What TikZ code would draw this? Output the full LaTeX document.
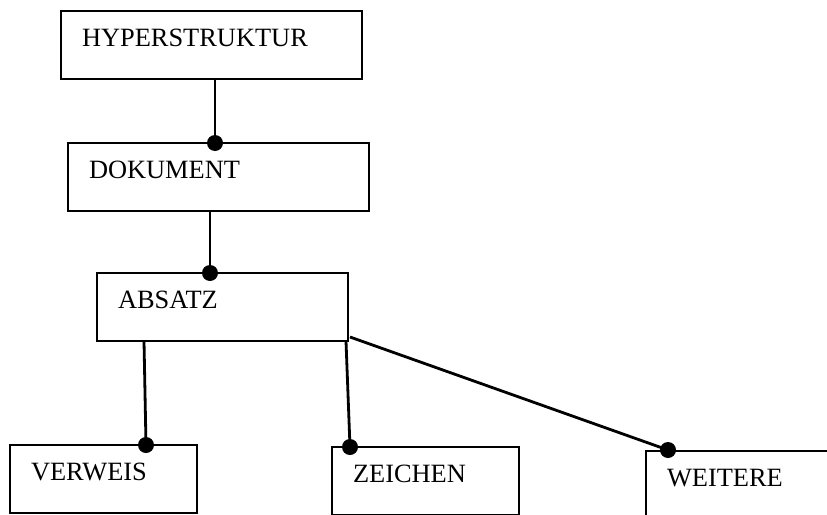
\documentclass[tikz,border=0pt]{standalone}
\usepackage{fontspec}
\setmainfont{Liberation Serif}
\usetikzlibrary{positioning, calc}

\tikzset{
  entity/.style={draw, line width=2pt, outer sep=0pt, anchor=north west, align=left,
    inner xsep=21pt, inner ysep=0pt, text height=35.7pt, text depth=32.3pt,
    font=\fontsize{26.4}{30}\selectfont},
  link/.style={line width=2.8pt},
  dot/.style={circle, fill=black, inner sep=0pt, minimum size=16pt}
}

\begin{document}
\begin{tikzpicture}[x=1pt, y=-1pt]
      \useasboundingbox (0,0) rectangle (827,514);
      \clip (0,0) rectangle (827,514);

      \node[entity, text width=259pt] (hyper) at (61,11) {HYPERSTRUKTUR};
      \node[entity, text width=259pt] (dok) at (68,143) {DOKUMENT};
      \node[entity, text width=209pt] (absatz) at (97,273) {ABSATZ};
      \node[entity, text width=145pt] (verweis) at (10,445) {VERWEIS};
      \node[entity, text width=145pt] (zeichen) at (332,447) {ZEICHEN};
      \node[entity, text width=145pt] (weitere) at (646,451) {WEITERE};

      \draw[link] ($(hyper.south west)+(154,0)$) -- ($(dok.north west)+(147,0)$) node[dot] (d1) {};
      \draw[link] ($(dok.south west)+(142,0)$) -- ($(absatz.north west)+(113,0)$) node[dot] (d2) {};
      \draw[link] ($(absatz.south west)+(47,0)$) -- ($(verweis.north west)+(136,0)$) node[dot] (d3) {};
      \draw[link] ($(absatz.south east)+(-2,0)$) -- ($(zeichen.north west)+(18,0)$) node[dot] (d4) {};
      \draw[link] ($(absatz.south east)+(2,-4)$) -- ($(weitere.north west)+(22,-1)$) node[dot] (d5) {};

    \end{tikzpicture}
\end{document}
